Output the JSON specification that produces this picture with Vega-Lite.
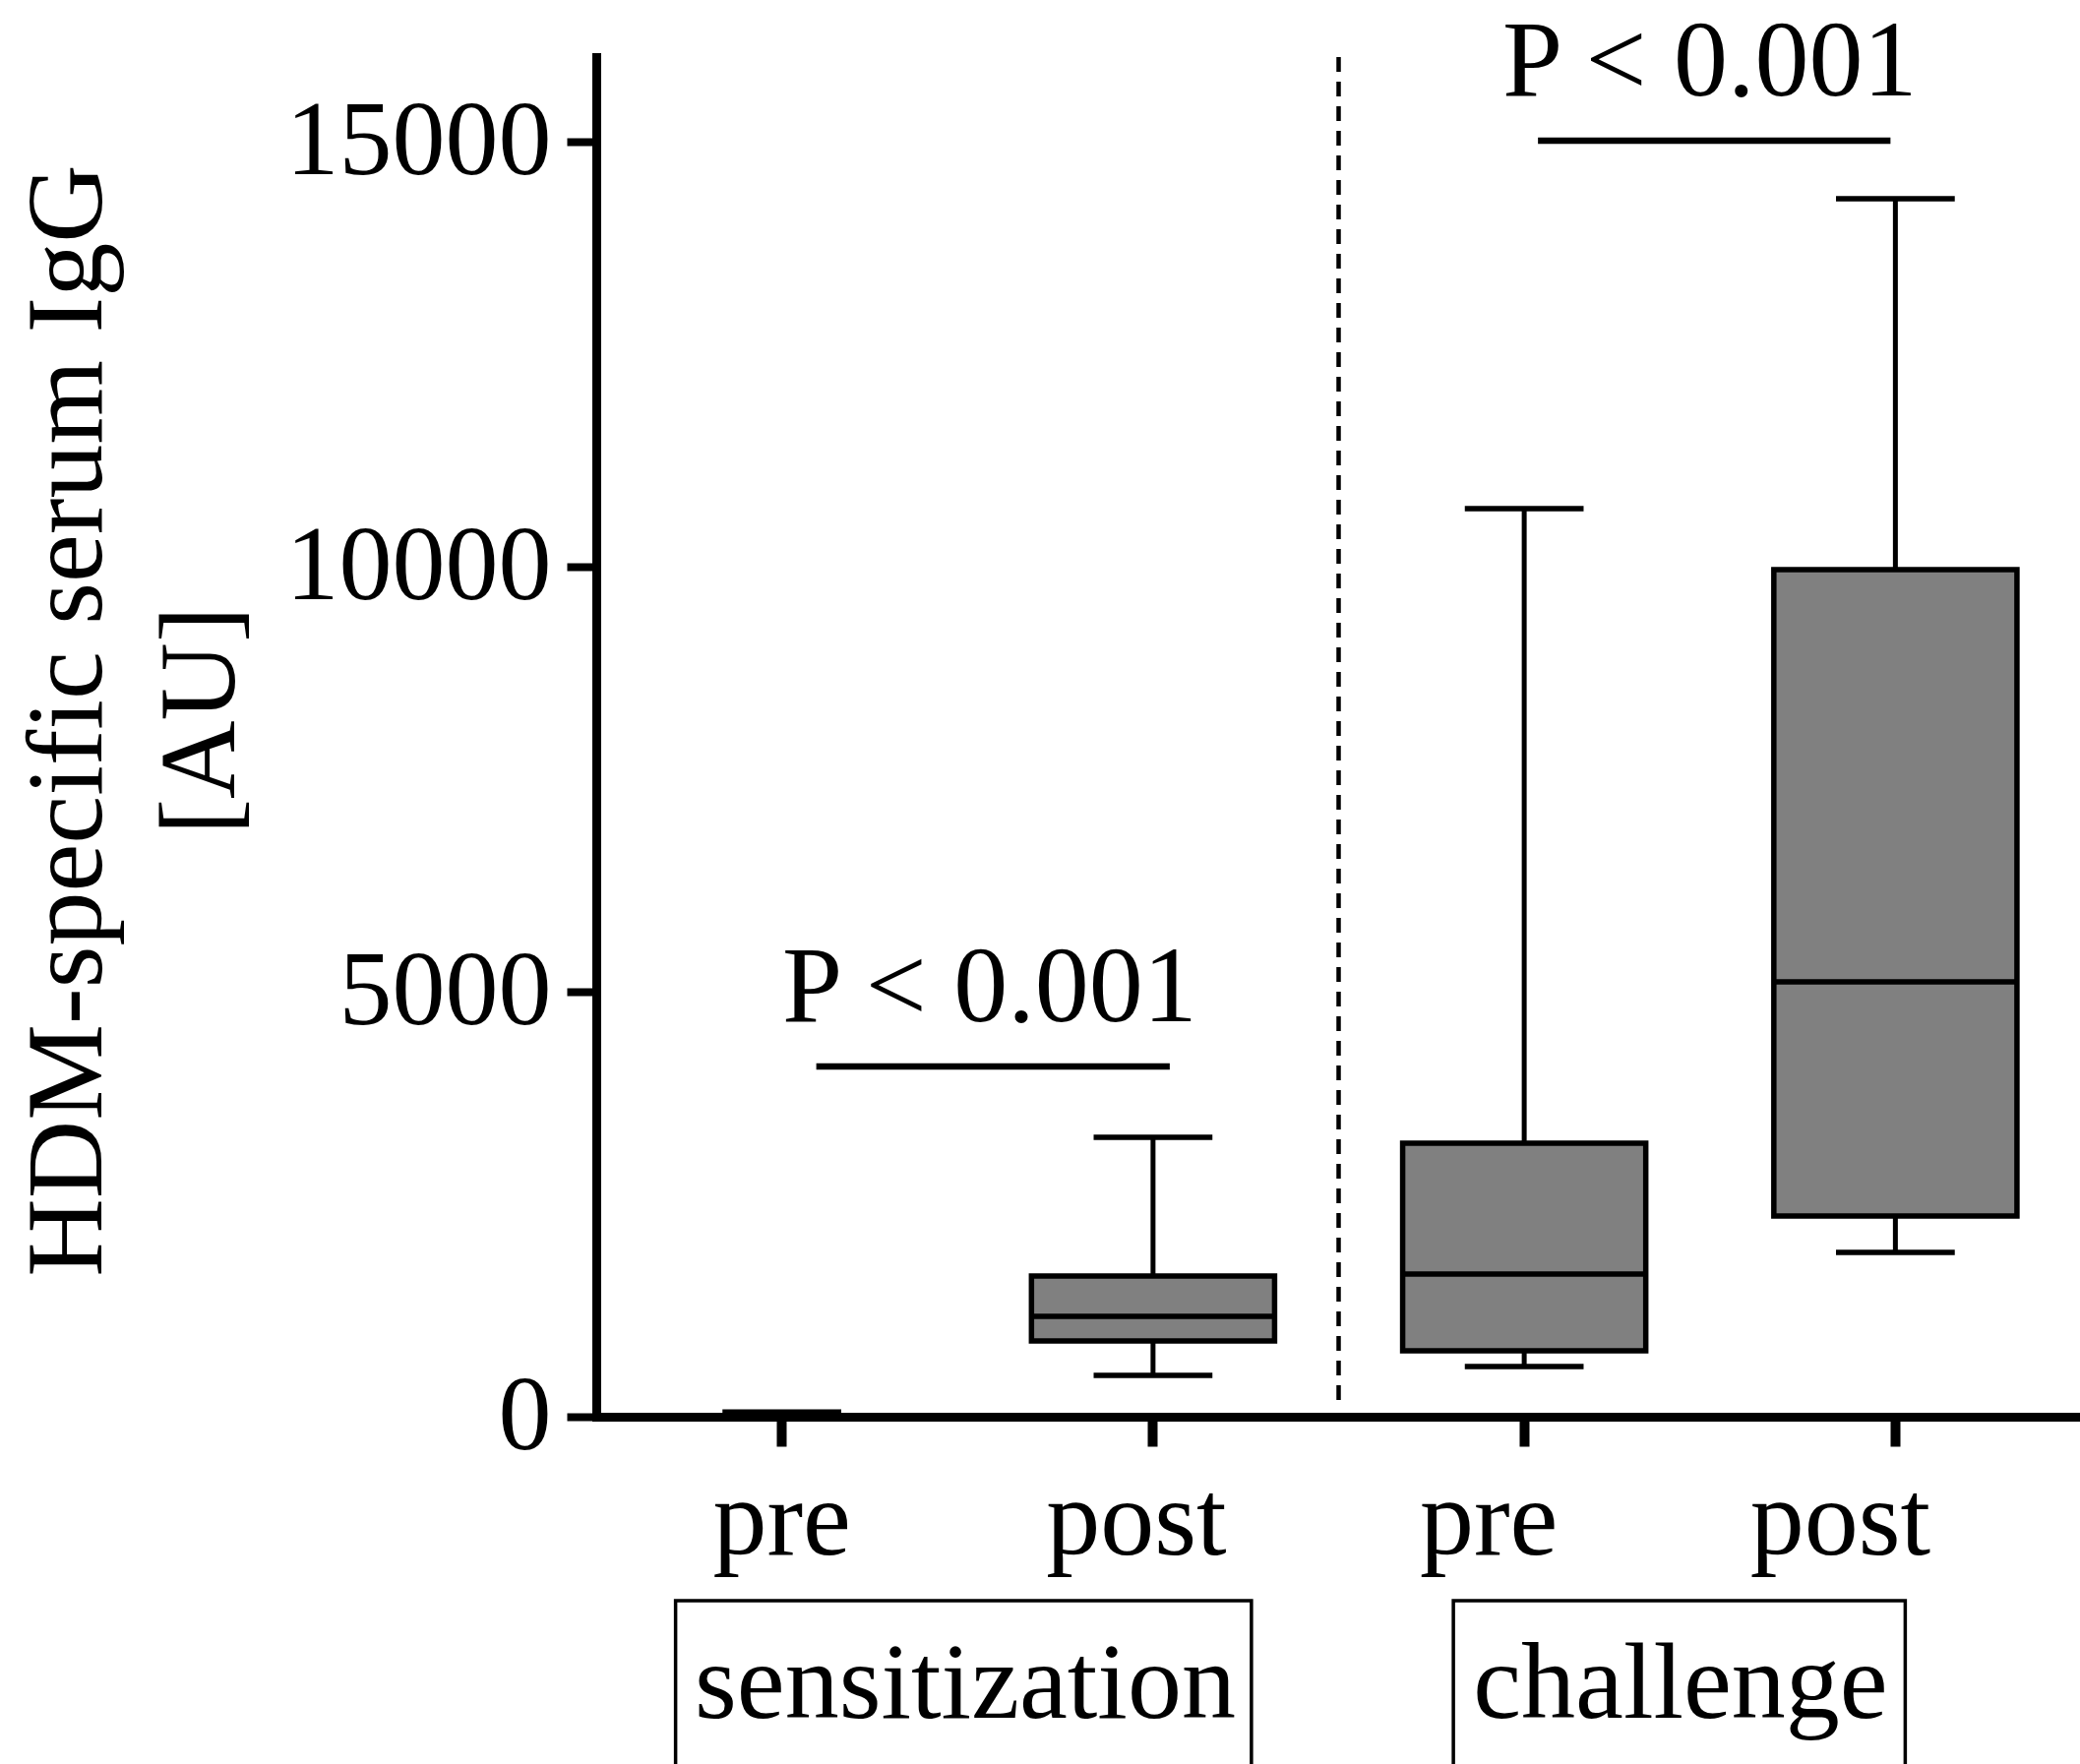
{
  "$schema": "https://vega.github.io/schema/vega-lite/v6.json",
  "background": "white",
  "padding": {"left": 13, "top": 9, "right": 0, "bottom": 0},
  "spacing": 187,
  "bounds": "flush",
  "config": {
    "font": "Liberation Serif",
    "view": {"stroke": null},
    "axis": {"grid": false, "labelColor": "black", "titleColor": "black", "domainColor": "black", "tickColor": "black", "labelLimit": 0}
  },
  "datasets": {
    "boxes": [
      {"group": "sensitization pre", "min": 0, "q1": 0, "median": 0, "q3": 5, "max": 55},
      {"group": "sensitization post", "min": 486, "q1": 891, "median": 1181, "q3": 1656, "max": 3288},
      {"group": "challenge pre", "min": 590, "q1": 776, "median": 1679, "q3": 3218, "max": 10686},
      {"group": "challenge post", "min": 1933, "q1": 2362, "median": 5117, "q3": 9968, "max": 14332}
    ],
    "tests": [
      {"phase": "sensitization", "group": "sensitization pre", "group2": "sensitization post", "y": 4121, "label": "P < 0.001"},
      {"phase": "challenge", "group": "challenge pre", "group2": "challenge post", "y": 15015, "label": "P < 0.001"}
    ],
    "phases": [
      {"phase": "sensitization", "first": "sensitization pre", "last": "sensitization post"},
      {"phase": "challenge", "first": "challenge pre", "last": "challenge post"}
    ]
  },
  "vconcat": [
    {
      "width": 1509,
      "height": 1382,
      "encoding": {
        "x": {
          "field": "group", "type": "nominal",
          "scale": {"domain": ["sensitization pre", "sensitization post", "challenge pre", "challenge post"], "paddingInner": 0, "paddingOuter": 0},
          "axis": {
            "title": null,
            "labelExpr": "split(datum.label, ' ')[1]",
            "labelAngle": 0,
            "labelFontSize": 110,
            "labelBaseline": "alphabetic",
            "labelPadding": 109,
            "labelOverlap": false,
            "labelBound": false,
            "labelLimit": 0,
            "labelOffset": {
              "condition": [
                {"test": "datum.value === 'sensitization post'", "value": -17},
                {"test": "datum.value === 'challenge pre'", "value": -36},
                {"test": "datum.value === 'challenge post'", "value": -56}
              ],
              "value": 0
            },
            "tickSize": 30,
            "tickWidth": 10,
            "domainWidth": 9,
            "domainCap": "square",
            "zindex": 1
          }
        }
      },
      "layer": [
        {
          "data": {"name": "boxes"},
          "mark": {"type": "rule", "color": "black", "strokeWidth": 5},
          "encoding": {
            "y": {
              "field": "min", "type": "quantitative",
              "scale": {"domain": [0, 16000], "nice": false, "zero": true},
              "axis": {
                "title": ["HDM-specific serum IgG", "[AU]"],
                "titleFontSize": 110,
                "titleFontWeight": "normal",
                "titleLineHeight": 135,
                "titleX": -481,
                "titleY": 674,
                "values": [0, 5000, 10000, 15000],
                "format": "d",
                "labelFontSize": 108,
                "labelPadding": 16,
                "labelFlush": false,
                "labelLimit": 0,
                "tickSize": 30,
                "tickWidth": 8,
                "domainWidth": 9,
                "domainCap": "square",
                "zindex": 1
              }
            },
            "y2": {"field": "max"}
          }
        },
        {
          "data": {"name": "boxes"},
          "mark": {"type": "bar", "width": {"band": 0.32}, "fill": "black", "stroke": "black", "strokeWidth": 5.5},
          "encoding": {
            "y": {"field": "max", "type": "quantitative"},
            "y2": {"field": "max"}
          }
        },
        {
          "data": {"name": "boxes"},
          "mark": {"type": "bar", "width": {"band": 0.32}, "fill": "black", "stroke": "black", "strokeWidth": 5.5},
          "encoding": {
            "y": {"field": "min", "type": "quantitative"},
            "y2": {"field": "min"}
          }
        },
        {
          "data": {"name": "boxes"},
          "mark": {"type": "bar", "width": {"band": 0.655}, "fill": "#808080", "stroke": "black", "strokeWidth": 5.5},
          "encoding": {
            "y": {"field": "q1", "type": "quantitative"},
            "y2": {"field": "q3"}
          }
        },
        {
          "data": {"name": "boxes"},
          "mark": {"type": "bar", "width": {"band": 0.655}, "fill": "black", "stroke": "black", "strokeWidth": 5.5},
          "encoding": {
            "y": {"field": "median", "type": "quantitative"},
            "y2": {"field": "median"}
          }
        },
        {
          "data": {"values": [{"group": "sensitization post", "top": 16000, "bottom": 185}]},
          "mark": {"type": "rule", "color": "black", "strokeWidth": 4.5, "strokeDash": [15, 10]},
          "encoding": {
            "x": {"field": "group", "type": "nominal", "bandPosition": 1},
            "y": {"field": "top", "type": "quantitative"},
            "y2": {"field": "bottom"}
          }
        },
        {
          "data": {"name": "tests"},
          "transform": [{"filter": "datum.phase === 'sensitization'"}],
          "mark": {"type": "rule", "color": "black", "strokeWidth": 6.5, "xOffset": 35, "x2Offset": 17},
          "encoding": {
            "x2": {"field": "group2"},
            "y": {"field": "y", "type": "quantitative"}
          }
        },
        {
          "data": {"name": "tests"},
          "transform": [{"filter": "datum.phase === 'challenge'"}],
          "mark": {"type": "rule", "color": "black", "strokeWidth": 6.5, "xOffset": 14, "x2Offset": -5},
          "encoding": {
            "x2": {"field": "group2"},
            "y": {"field": "y", "type": "quantitative"}
          }
        },
        {
          "data": {"name": "tests"},
          "transform": [{"filter": "datum.phase === 'sensitization'"}],
          "mark": {"type": "text", "fontSize": 110, "align": "center", "baseline": "alphabetic", "dy": -46, "color": "black"},
          "encoding": {
            "x": {"field": "group", "type": "nominal", "bandPosition": 1.06},
            "y": {"field": "y", "type": "quantitative"},
            "text": {"field": "label"}
          }
        },
        {
          "data": {"name": "tests"},
          "transform": [{"filter": "datum.phase === 'challenge'"}],
          "mark": {"type": "text", "fontSize": 110, "align": "center", "baseline": "alphabetic", "dy": -46, "color": "black"},
          "encoding": {
            "x": {"field": "group", "type": "nominal", "bandPosition": 1.0},
            "y": {"field": "y", "type": "quantitative"},
            "text": {"field": "label"}
          }
        }
      ]
    },
    {
      "width": 1509,
      "height": 238,
      "data": {"name": "phases"},
      "encoding": {
        "x": {"field": "first", "type": "nominal", "scale": {"domain": ["sensitization pre", "sensitization post", "challenge pre", "challenge post"], "paddingInner": 0, "paddingOuter": 0}, "axis": null}
      },
      "layer": [
        {
          "transform": [{"filter": "datum.phase === 'sensitization'"}],
          "mark": {"type": "rect", "filled": false, "stroke": "black", "strokeWidth": 3.5, "xOffset": -108, "x2Offset": 100},
          "encoding": {"x2": {"field": "last"}}
        },
        {
          "transform": [{"filter": "datum.phase === 'challenge'"}],
          "mark": {"type": "rect", "filled": false, "stroke": "black", "strokeWidth": 3.5, "xOffset": -72, "x2Offset": 10},
          "encoding": {"x2": {"field": "last"}}
        },
        {
          "transform": [{"filter": "datum.phase === 'sensitization'"}],
          "mark": {"type": "text", "fontSize": 110, "align": "center", "baseline": "alphabetic", "color": "black"},
          "encoding": {
            "x": {"field": "first", "type": "nominal", "bandPosition": 0.994, "axis": null},
            "text": {"field": "phase"}
          }
        },
        {
          "transform": [{"filter": "datum.phase === 'challenge'"}],
          "mark": {"type": "text", "fontSize": 110, "align": "center", "baseline": "alphabetic", "color": "black"},
          "encoding": {
            "x": {"field": "first", "type": "nominal", "bandPosition": 0.921, "axis": null},
            "text": {"field": "phase"}
          }
        }
      ]
    }
  ]
}
